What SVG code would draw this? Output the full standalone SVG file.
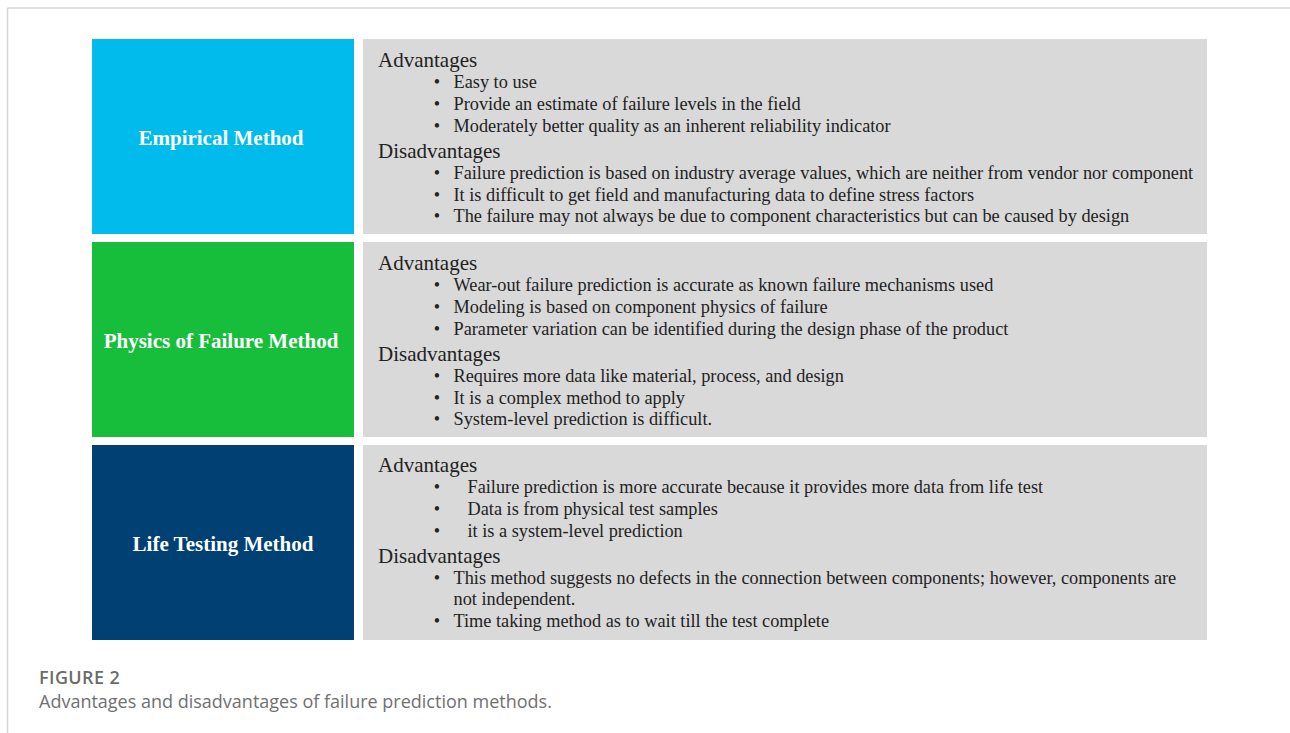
<svg xmlns="http://www.w3.org/2000/svg" width="1290" height="733" viewBox="0 0 1290 733">
<style>
.lbl{font-family:"Liberation Serif","Times New Roman",serif;font-weight:bold;font-size:21px;fill:#ffffff;text-anchor:middle}
.hd{font-family:"Liberation Serif","Times New Roman",serif;font-size:21px;fill:#222222}
.it{font-family:"Liberation Serif","Times New Roman",serif;font-size:18.3px;fill:#222222}
.bu{font-family:"Liberation Serif","Times New Roman",serif;font-size:18px;fill:#222222;text-anchor:middle}
.panel{fill:#d9d9d9}
.cap1{font-family:"Open Sans","Noto Sans",sans-serif;font-weight:600;font-size:18px;letter-spacing:0.4px;fill:#6b6b6b}
.cap2{font-family:"Open Sans","Noto Sans",sans-serif;font-size:18px;fill:#707070}
</style>
<rect x="0" y="0" width="1290" height="733" fill="#ffffff"/>
<g id="frame">
<line x1="7.5" y1="8" x2="1290" y2="8" stroke="#d6d6d6" stroke-width="1.5"/>
<line x1="7.5" y1="8" x2="7.5" y2="733" stroke="#d6d6d6" stroke-width="1.5"/>
</g>
<g id="connectors"></g>
<g id="empirical">
<rect x="92" y="39" width="262" height="195" fill="#00bbeb"/>
<text class="lbl" x="221" y="145">Empirical Method</text>
</g>
<g id="empirical-details">
<rect class="panel" x="363" y="39" width="844" height="195"/>
<text class="hd" x="378" y="67">Advantages</text>
<text class="bu" x="437" y="88">•</text><text class="it" x="453.5" y="88">Easy to use</text>
<text class="bu" x="437" y="110">•</text><text class="it" x="453.5" y="110">Provide an estimate of failure levels in the field</text>
<text class="bu" x="437" y="132">•</text><text class="it" x="453.5" y="132">Moderately better quality as an inherent reliability indicator</text>
<text class="hd" x="378" y="158">Disadvantages</text>
<text class="bu" x="437" y="178.5">•</text><text class="it" x="453.5" y="178.5">Failure prediction is based on industry average values, which are neither from vendor nor component</text>
<text class="bu" x="437" y="200.5">•</text><text class="it" x="453.5" y="200.5">It is difficult to get field and manufacturing data to define stress factors</text>
<text class="bu" x="437" y="222">•</text><text class="it" x="453.5" y="222">The failure may not always be due to component characteristics but can be caused by design</text>
</g>
<g id="physics">
<rect x="92" y="242" width="262" height="195" fill="#17be3b"/>
<text class="lbl" x="221" y="348">Physics of Failure Method</text>
</g>
<g id="physics-details">
<rect class="panel" x="363" y="242" width="844" height="195"/>
<text class="hd" x="378" y="270">Advantages</text>
<text class="bu" x="437" y="291">•</text><text class="it" x="453.5" y="291">Wear-out failure prediction is accurate as known failure mechanisms used</text>
<text class="bu" x="437" y="313">•</text><text class="it" x="453.5" y="313">Modeling is based on component physics of failure</text>
<text class="bu" x="437" y="335">•</text><text class="it" x="453.5" y="335">Parameter variation can be identified during the design phase of the product</text>
<text class="hd" x="378" y="361">Disadvantages</text>
<text class="bu" x="437" y="381.5">•</text><text class="it" x="453.5" y="381.5">Requires more data like material, process, and design</text>
<text class="bu" x="437" y="403.5">•</text><text class="it" x="453.5" y="403.5">It is a complex method to apply</text>
<text class="bu" x="437" y="425">•</text><text class="it" x="453.5" y="425">System-level prediction is difficult.</text>
</g>
<g id="life">
<rect x="92" y="445" width="262" height="195" fill="#004073"/>
<text class="lbl" x="223" y="551">Life Testing Method</text>
</g>
<g id="life-details">
<rect class="panel" x="363" y="445" width="844" height="195"/>
<text class="hd" x="378" y="472">Advantages</text>
<text class="bu" x="437" y="493">•</text><text class="it" x="467.5" y="493">Failure prediction is more accurate because it provides more data from life test</text>
<text class="bu" x="437" y="515">•</text><text class="it" x="467.5" y="515">Data is from physical test samples</text>
<text class="bu" x="437" y="537">•</text><text class="it" x="467.5" y="537">it is a system-level prediction</text>
<text class="hd" x="378" y="563">Disadvantages</text>
<text class="bu" x="437" y="584">•</text><text class="it" x="453.5" y="584">This method suggests no defects in the connection between components; however, components are</text>
<text class="it" x="453.5" y="605">not independent.</text>
<text class="bu" x="437" y="627">•</text><text class="it" x="453.5" y="627">Time taking method as to wait till the test complete</text>
</g>
<g id="caption">
<text class="cap1" x="39" y="684">FIGURE 2</text>
<text class="cap2" x="39" y="707.5">Advantages and disadvantages of failure prediction methods.</text>
</g>
</svg>
